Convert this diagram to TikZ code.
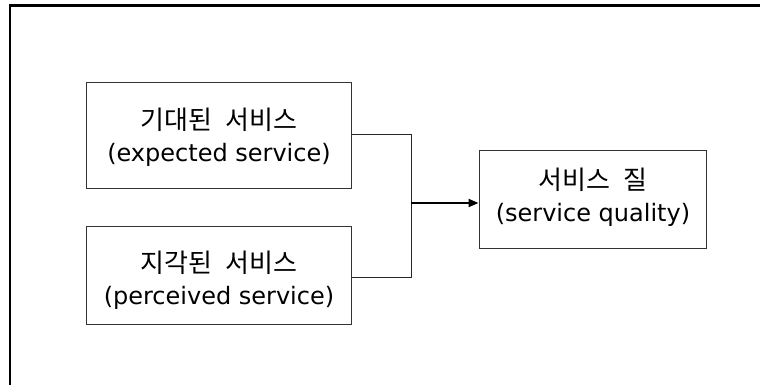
\documentclass[tikz,border=0pt]{standalone}
\usepackage{fontspec}
\setmainfont{DejaVu Sans}
\newfontfamily\kr{Noto Sans CJK KR}[WordSpace=2.2]
\usetikzlibrary{arrows.meta}
\newcommand{\krline}[1]{{\kr\fontsize{26}{31}\selectfont #1}}
\begin{document}
\begin{tikzpicture}[x=1pt,y=-1pt,
  box/.style={draw=black!80,line width=1pt,rectangle,inner sep=0pt},
  txt/.style={inner sep=0pt,align=center,font=\fontsize{24}{32}\selectfont},
  link/.style={draw=black!85,line width=1pt},
  arrow/.style={draw=black,line width=2pt,-{Triangle[length=10pt,width=8pt]}}]
\useasboundingbox (0,0) rectangle (760,384);
% outer frame (top and left edges)
\draw[line width=2.5pt] (10,390) -- (10,5.5) -- (770,5.5);
% boxes
\node[box,minimum width=265pt,minimum height=106pt] (exp) at (218.5,135) {};
\node[box,minimum width=265pt,minimum height=98pt] (per) at (218.5,275) {};
\node[box,minimum width=227pt,minimum height=98pt] (sq) at (592.5,199) {};
% labels
\node[txt] (exp-t) at (219,137) {\krline{기대된 서비스}\\(expected service)};
\node[txt] (per-t) at (219,280) {\krline{지각된 서비스}\\(perceived service)};
\node[txt] (sq-t) at (593,197) {\krline{서비스 질}\\(service quality)};
% connectors
\coordinate (j) at (411,203);
\draw[link] (exp.east) ++(0,-1) -| (j);
\draw[link] (per.east) ++(0,2) -| (j);
\draw[arrow] (j) -- (j -| sq.west);
\end{tikzpicture}
\end{document}
